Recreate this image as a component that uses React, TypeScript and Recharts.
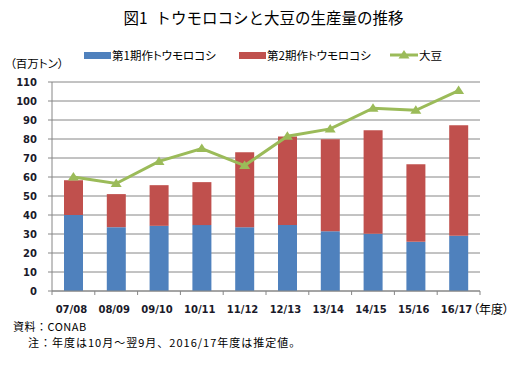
import React from 'react';
import { ComposedChart, Bar, Line, XAxis, YAxis, CartesianGrid } from 'recharts';

const seasons = ['07/08', '08/09', '09/10', '10/11', '11/12', '12/13', '13/14', '14/15', '15/16', '16/17'];
const firstCrop = [40.0, 33.6, 34.3, 34.7, 33.6, 34.7, 31.4, 30.1, 25.9, 29.1];
const secondCrop = [18.3, 17.4, 21.4, 22.6, 39.4, 46.6, 48.5, 54.5, 40.8, 58.1];
const soybeans = [60.0, 56.6, 68.2, 75.0, 66.0, 81.5, 85.3, 96.2, 95.1, 105.5];
const yTicks = [0, 10, 20, 30, 40, 50, 60, 70, 80, 90, 100, 110];

const seriesNames = ['第1期作トウモロコシ', '第2期作トウモロコシ', '大豆'];

const data = seasons.map((s, i) => ({
  season: s,
  first: firstCrop[i],
  second: secondCrop[i],
  soy: soybeans[i],
}));

const W = 527;
const H = 372;
const PLOT_LEFT = 52;
const PLOT_RIGHT = 480;
const PLOT_TOP = 82;
const AXIS_Y = 291;
const GRID = '#868686';
const BLUE = '#4F81BD';
const RED = '#C0504D';
const GREEN = '#9BBB59';
const JP = '"Noto Sans CJK JP", "Noto Sans", sans-serif';
const NUM = '"DejaVu Sans", sans-serif';

const XTick = (props: any) => {
  const { x, payload, index } = props;
  const step = (PLOT_RIGHT - PLOT_LEFT) / seasons.length;
  return (
    <g>
      <line x1={x - step / 2} x2={x - step / 2} y1={AXIS_Y} y2={AXIS_Y + 4} stroke={GRID} />
      {index === seasons.length - 1 && (
        <line x1={x + step / 2} x2={x + step / 2} y1={AXIS_Y} y2={AXIS_Y + 4} stroke={GRID} />
      )}
      <text x={x - 2} y={AXIS_Y + 22} textAnchor="middle" fontFamily={NUM} fontSize={10} fontWeight="bold" fill="#1a1a2a">
        {payload.value}
      </text>
    </g>
  );
};

const Triangle = (props: any) => {
  const { cx, cy } = props;
  if (cx == null || cy == null) return null;
  return <polygon points={`${cx},${cy - 5} ${cx - 5.5},${cy + 3.5} ${cx + 5.5},${cy + 3.5}`} fill={GREEN} />;
};

const legendLefts = [84, 239, 390];
const palt = { fontFeatureSettings: '"palt"' };

export default function App() {
  return (
    <div style={{ position: 'absolute', left: 0, top: 0, width: W, height: H, background: '#fff', fontFamily: JP, color: '#000' }}>
      <div style={{ position: 'absolute', top: 6, left: 0, width: W, textAlign: 'center', fontSize: 15.5, lineHeight: '22px' }}>
        {'図1\u2002トウモロコシと大豆の生産量の推移'}
      </div>

      {seriesNames.map((name, i) => (
        <div
          key={name}
          style={{ ...palt, position: 'absolute', left: legendLefts[i], top: 46, height: 18, display: 'flex', alignItems: 'center', fontSize: 11.5 }}
        >
          {i < 2 ? (
            <span style={{ display: 'inline-block', width: 27, height: 7, background: i === 0 ? BLUE : RED }} />
          ) : (
            <svg width={28} height={12}>
              <line x1={0} x2={28} y1={6} y2={6} stroke={GREEN} strokeWidth={3} />
              <polygon points="14,1 8.5,9.5 19.5,9.5" fill={GREEN} />
            </svg>
          )}
          <span style={{ marginLeft: 1 }}>{name}</span>
        </div>
      ))}

      <div style={{ ...palt, position: 'absolute', left: 10, top: 54, fontSize: 11.5, lineHeight: '18px' }}>（百万トン）</div>

      <ComposedChart
        width={W}
        height={H}
        data={data}
        margin={{ top: PLOT_TOP, right: W - PLOT_RIGHT, bottom: H - AXIS_Y - 30, left: 0 }}
        barSize={19}
      >
        <CartesianGrid vertical={false} stroke={GRID} />
        <XAxis
          dataKey="season"
          height={30}
          interval={0}
          axisLine={{ stroke: GRID }}
          tickLine={false}
          tick={<XTick />}
        />
        <YAxis
          width={PLOT_LEFT}
          domain={[0, 110]}
          ticks={yTicks}
          interval={0}
          tickSize={4}
          tickMargin={11}
          axisLine={{ stroke: GRID }}
          tickLine={{ stroke: GRID }}
          tick={{ fontFamily: NUM, fontSize: 10, fontWeight: 'bold', fill: '#1a1a2a' }}
        />
        <Bar dataKey="first" stackId="corn" fill={BLUE} isAnimationActive={false} />
        <Bar dataKey="second" stackId="corn" fill={RED} isAnimationActive={false} />
        <Line
          dataKey="soy"
          stroke={GREEN}
          strokeWidth={3}
          dot={<Triangle />}
          activeDot={false}
          isAnimationActive={false}
        />
      </ComposedChart>

      <div style={{ ...palt, position: 'absolute', left: 473, top: 301, fontSize: 12, lineHeight: '16px' }}>（年度）</div>
      <div style={{ position: 'absolute', left: 13, top: 318, fontSize: 11, lineHeight: '16px', letterSpacing: 0.5 }}>資料：CONAB</div>
      <div style={{ position: 'absolute', left: 28, top: 334, fontSize: 11, lineHeight: '16px', letterSpacing: 1 }}>
        注：年度は10月～翌9月、2016/17年度は推定値。
      </div>
    </div>
  );
}
